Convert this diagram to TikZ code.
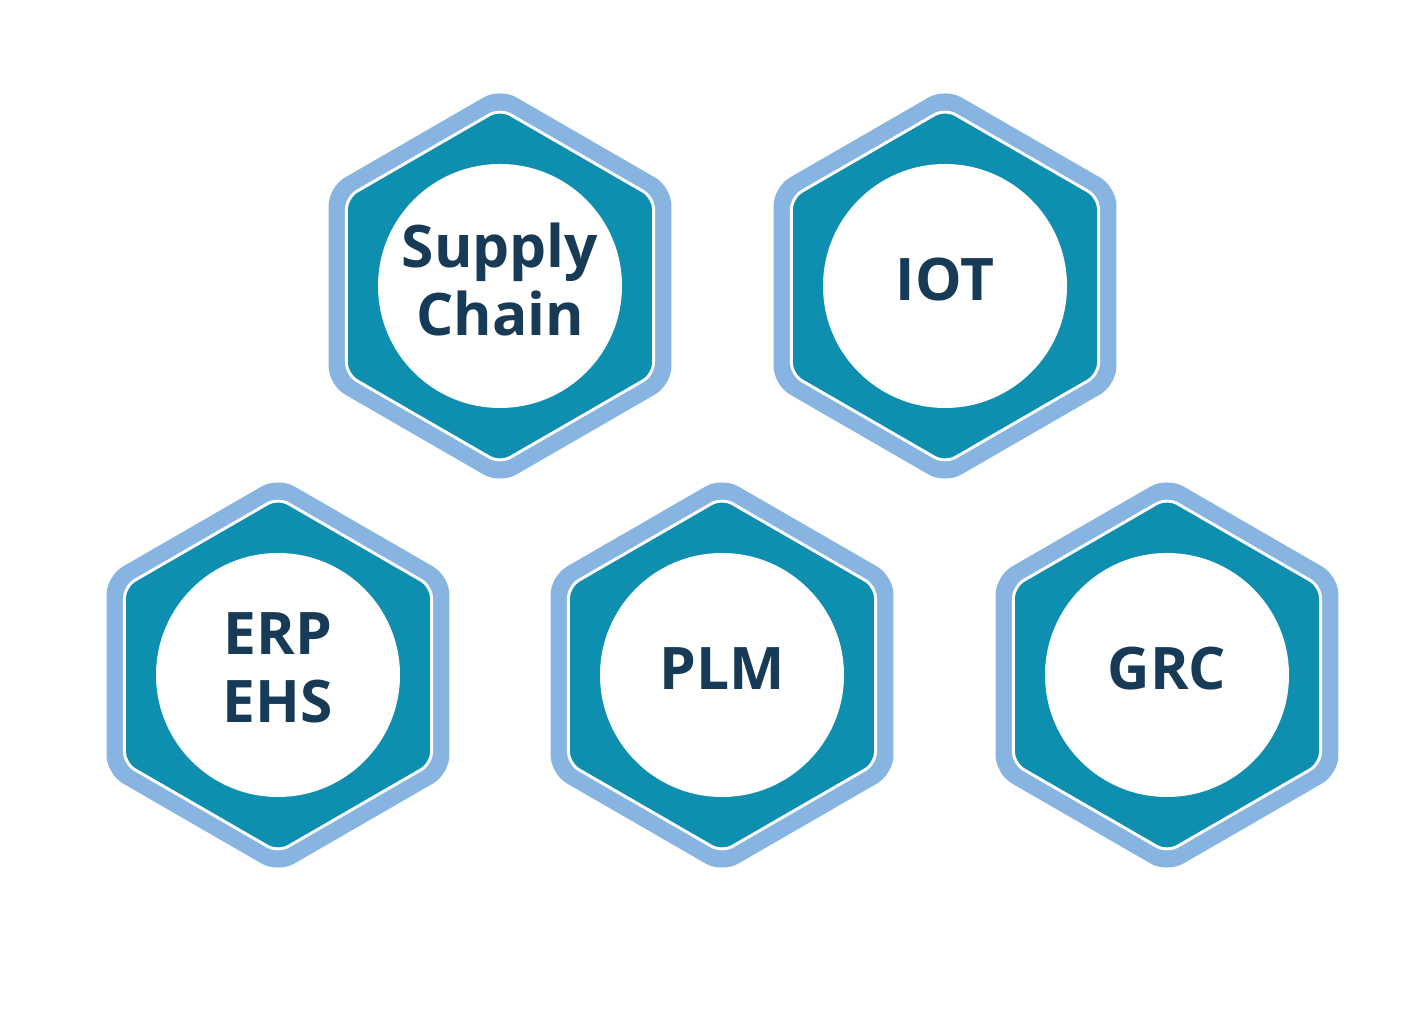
\documentclass[tikz,border=0pt]{standalone}
\usepackage{fontspec}
\setmainfont{Open Sans}
\usepackage{tikz}
\usetikzlibrary{positioning, shapes.geometric}

\definecolor{rimblue}{HTML}{87B4E0}
\definecolor{tealfill}{HTML}{0F8FAF}
\definecolor{navytext}{HTML}{173A56}

\tikzset{
  hexrim/.style={regular polygon, regular polygon sides=6, shape border rotate=30,
        fill=rimblue, rounded corners=14pt, inner sep=0pt, outer sep=0pt, minimum size=297pt},
  hexcore/.style={regular polygon, regular polygon sides=6, shape border rotate=30,
        fill=tealfill, draw=white, line width=2.2pt, rounded corners=9pt,
        inner sep=0pt, outer sep=0pt, minimum size=266pt},
  disc/.style={circle, fill=white, inner sep=0pt, minimum size=183pt},
  hextext/.style={align=center, text=navytext, font=\fontsize{44}{51}\selectfont\bfseries}
}

\begin{document}
\begin{tikzpicture}[x=0.75pt, y=0.75pt]
  \useasboundingbox (0,0) rectangle (1424,1016);

  % top row
  \node[hexrim]  (sc)     at (500,730) {};
  \node[hexcore] (sccore) at (sc) {};
  \node[disc]    (scdisc) at (sc) {};
  \node[hextext] (sctext) at ([yshift=5]scdisc.center) {Supply\\Chain};

  \node[hexrim]  (iot)     at (945,730) {};
  \node[hexcore] (iotcore) at (iot) {};
  \node[disc]    (iotdisc) at (iot) {};
  \node[hextext] (iottext) at ([yshift=5]iotdisc.center) {IOT};

  % bottom row
  \node[hexrim]  (erp)     at (278,341) {};
  \node[hexcore] (erpcore) at (erp) {};
  \node[disc]    (erpdisc) at (erp) {};
  \node[hextext] (erptext) at ([yshift=5]erpdisc.center) {ERP\\EHS};

  \node[hexrim]  (plm)     at (722,341) {};
  \node[hexcore] (plmcore) at (plm) {};
  \node[disc]    (plmdisc) at (plm) {};
  \node[hextext] (plmtext) at ([yshift=5]plmdisc.center) {PLM};

  \node[hexrim]  (grc)     at (1167,341) {};
  \node[hexcore] (grccore) at (grc) {};
  \node[disc]    (grcdisc) at (grc) {};
  \node[hextext] (grctext) at ([yshift=5]grcdisc.center) {GRC};
\end{tikzpicture}
\end{document}
